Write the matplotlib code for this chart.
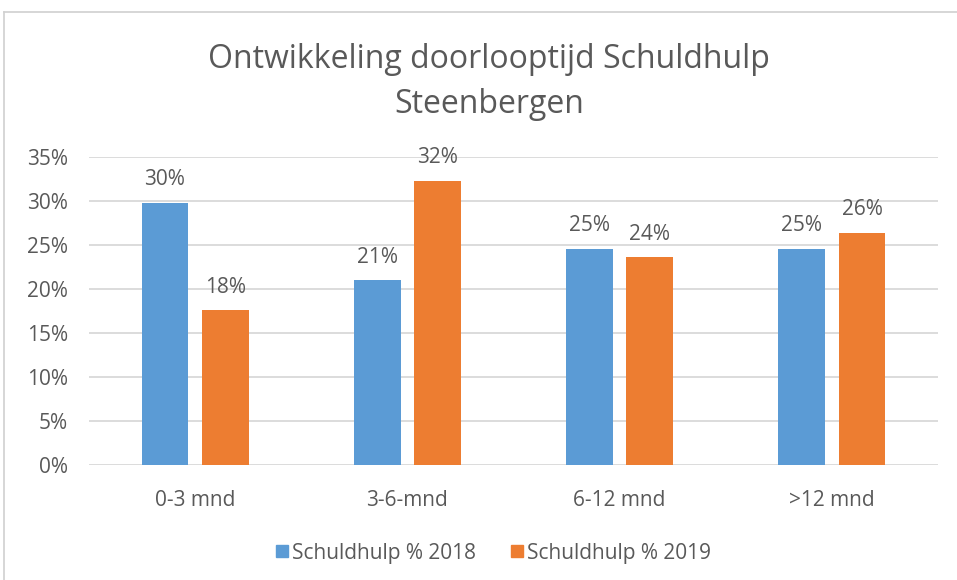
import matplotlib
matplotlib.use("Agg")
import matplotlib.pyplot as plt
from matplotlib.lines import Line2D
from matplotlib.ticker import FuncFormatter

categories = ["0-3 mnd", "3-6-mnd", "6-12 mnd", ">12 mnd"]
series_names = ["Schuldhulp % 2018", "Schuldhulp % 2019"]
values_2018 = [29.8, 21.0, 24.6, 24.6]
values_2019 = [17.6, 32.3, 23.6, 26.4]
y_ticks = [0, 5, 10, 15, 20, 25, 30, 35]
title_lines = ["Ontwikkeling doorlooptijd Schuldhulp", "Steenbergen"]

BLUE = "#5B9BD5"
ORANGE = "#ED7D31"
TEXT = "#595959"
GRID = "#D9D9D9"
FS = 15

plt.rcParams["font.family"] = ["Open Sans", "DejaVu Sans"]

W, H = 957, 580
fig = plt.figure(figsize=(W / 100, H / 100), dpi=100)

# frame lines (top and left only, like the cropped screenshot)
fig.add_artist(Line2D([4 / W, 1], [1 - 12 / H, 1 - 12 / H], color="#D0D0D0", lw=1.2))
fig.add_artist(Line2D([4 / W, 4 / W], [0, 1 - 12 / H], color="#D0D0D0", lw=1.2))

ax = fig.add_axes([89 / W, 1 - 465 / H, (938 - 89) / W, (465 - 157) / H])

x = range(len(categories))
width = 0.22
offset = 0.142
for vals, color, name, sign in [(values_2018, BLUE, series_names[0], -1),
                                (values_2019, ORANGE, series_names[1], 1)]:
    pos = [i + sign * offset for i in x]
    bars = ax.bar(pos, vals, width=width, color=color, label=name, zorder=3)
    for b, v in zip(bars, vals):
        ax.annotate(f"{round(v):.0f}%", (b.get_x() + b.get_width() / 2, v),
                    xytext=(0, 9), textcoords="offset points",
                    ha="center", va="bottom", fontsize=FS, color=TEXT)

ax.set_xlim(-0.5, len(categories) - 0.5)
ax.set_ylim(0, 35)
ax.set_yticks(y_ticks)
ax.yaxis.set_major_formatter(FuncFormatter(lambda v, _: f"{v:.0f}%"))
ax.set_xticks(list(x))
ax.set_xticklabels(categories)
ax.grid(axis="y", color=GRID, lw=1.3, zorder=0)
for s in ax.spines.values():
    s.set_visible(False)
ax.tick_params(length=0, labelsize=FS, colors=TEXT)
ax.tick_params(axis="y", pad=15)
ax.tick_params(axis="x", pad=18)

fig.text(489 / W, 1 - 68 / H, title_lines[0], ha="center", va="baseline",
         fontsize=23, color=TEXT)
fig.text(489 / W, 1 - 113 / H, title_lines[1], ha="center", va="baseline",
         fontsize=23, color=TEXT)

handles = [Line2D([], [], marker="s", ls="", color=c, markersize=8.6)
           for c in (BLUE, ORANGE)]
fig.legend(handles, series_names, loc="center", bbox_to_anchor=(493 / W, 1 - 553 / H),
           ncol=2, frameon=False, fontsize=FS, labelcolor=TEXT,
           handletextpad=0.15, columnspacing=1.6, handlelength=0.7)

fig.savefig("out.png", dpi=100)
